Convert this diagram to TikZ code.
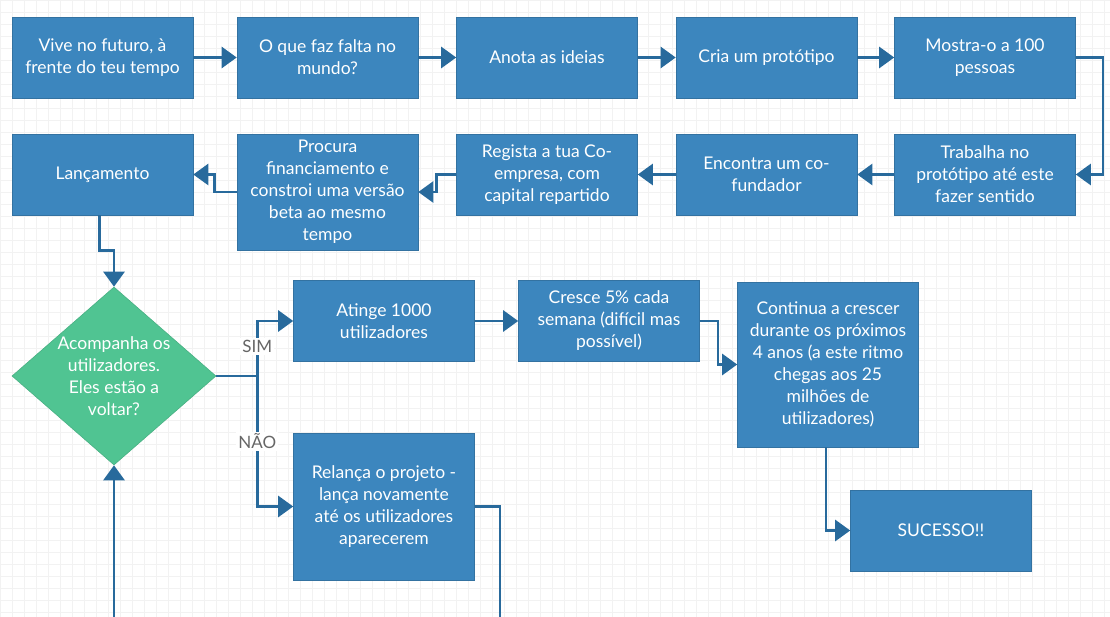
\documentclass[tikz,border=0pt]{standalone}
\usepackage{fontspec}
\setmainfont{Lato}
\usetikzlibrary{positioning,shapes.geometric,arrows.meta}

\definecolor{caixaazul}{RGB}{60,134,190}
\definecolor{linhaazul}{RGB}{40,106,156}
\definecolor{verde}{RGB}{80,196,146}

\tikzset{
  caixa/.style={rectangle, fill=caixaazul, draw=caixaazul!85!black, line width=0.6pt,
    minimum width=181pt, minimum height=81pt, text=white, align=center,
    font=\fontsize{17.5}{22}\selectfont},
  decisao/.style={diamond, fill=verde, draw=verde!90!black, line width=0.6pt, inner sep=0pt,
    minimum width=204pt, minimum height=178pt},
  seta/.style={draw=linhaazul, line width=2.6pt, -{Triangle[length=15pt,width=21pt]}},
  rotulo/.style={fill=white, text=black!60, inner sep=2pt, font=\fontsize{17}{20}\selectfont},
}

\begin{document}
\begin{tikzpicture}[x=1pt, y=-1pt, on grid]
	\clip (0,0) rectangle (1110,617);
	\fill[white] (0,0) rectangle (1110,617);
	\draw[black!5, line width=0.5pt, step=12pt] (0,617) grid (1110,0);
	
	% primeira linha
	\node[caixa]  (vive)     at (102.5,57.5) {Vive no futuro, à\\frente do teu tempo};
	\node[caixa]  (falta)    [right=225pt of vive]    {O que faz falta no\\mundo?};
	\node[caixa]  (anota)    [right=219.5pt of falta] {Anota as ideias};
	\node[caixa]  (cria)     [right=219.5pt of anota] {Cria um protótipo};
	\node[caixa]  (mostra)   [right=218.5pt of cria]  {Mostra-o a 100\\pessoas};
	
	% segunda linha
	\node[caixa]  (trabalha) [below=117pt of mostra]  {Trabalha no\\protótipo até este\\fazer sentido};
	\node[caixa]  (encontra) [below=117pt of cria]    {Encontra um co-\\fundador};
	\node[caixa]  (regista)  [below=117pt of anota]   {Regista a tua Co-\\empresa, com\\capital repartido};
	\node[caixa, minimum height=116pt] (procura) at (327.5,192) {Procura\\financiamento e\\constroi uma versão\\beta ao mesmo\\tempo};
	\node[caixa]  (lanca)    [below=117pt of vive]    {Lançamento};
	
	% decisao e ramos
	\node[decisao, label={[text=white, align=center, font=\fontsize{17.5}{22}\selectfont]center:Acompanha os\\utilizadores.\\Eles estão a\\voltar?}] (acompanha) at (114,376) {};
	\node[caixa]  (atinge)   at (384,321)  {Atinge 1000\\utilizadores};
	\node[caixa]  (cresce)   at (609,321)  {Cresce 5\% cada\\semana (difícil mas\\possível)};
	\node[caixa, minimum height=165pt] (continua) at (828,364.5) {Continua a crescer\\durante os próximos\\4 anos (a este ritmo\\chegas aos 25\\milhões de\\utilizadores)};
	\node[caixa]  (sucesso)  at (941,530.5) {SUCESSO!!};
	\node[caixa, minimum height=147pt] (relanca) at (384,506.5) {Relança o projeto -\\lança novamente\\até os utilizadores\\aparecerem};
	
	\coordinate (ramo) at ([xshift=41pt]acompanha.east);
	
	\path[seta] (vive) -- (falta);
	\path[seta] (falta) -- (anota);
	\path[seta] (anota) -- (cria);
	\path[seta] (cria) -- (mostra);
	\path[seta] (mostra.east) -- ++(27,0) |- (trabalha.east);
	\path[seta] (trabalha) -- (encontra);
	\path[seta] (encontra) -- (regista);
	\path[seta] (regista.west) -- ++(-20,0) |- (procura.east);
	\path[seta] (procura.west) -- ++(-22,0) |- (lanca.east);
	\path[seta] ([xshift=-3pt]lanca.south) -- ++(0,35) -| (acompanha.north);
	
	\path[draw=linhaazul, line width=2.6pt] (acompanha.east) -- (ramo);
	\path[seta] (ramo) |- node[rotulo, pos=0.27] {SIM} (atinge.west);
	\path[seta] (ramo) |- node[rotulo, pos=0.25] {NÃO} (relanca.west);
	\path[seta] (atinge) -- (cresce);
	\path[seta] (cresce.east) -- ++(18,0) |- (continua.west);
	\path[seta] ([xshift=-2pt]continua.south) |- (sucesso.west);
	\path[seta] (relanca.east) -- ++(25,0) -- ++(0,125) -| (acompanha.south);
\end{tikzpicture}
\end{document}
